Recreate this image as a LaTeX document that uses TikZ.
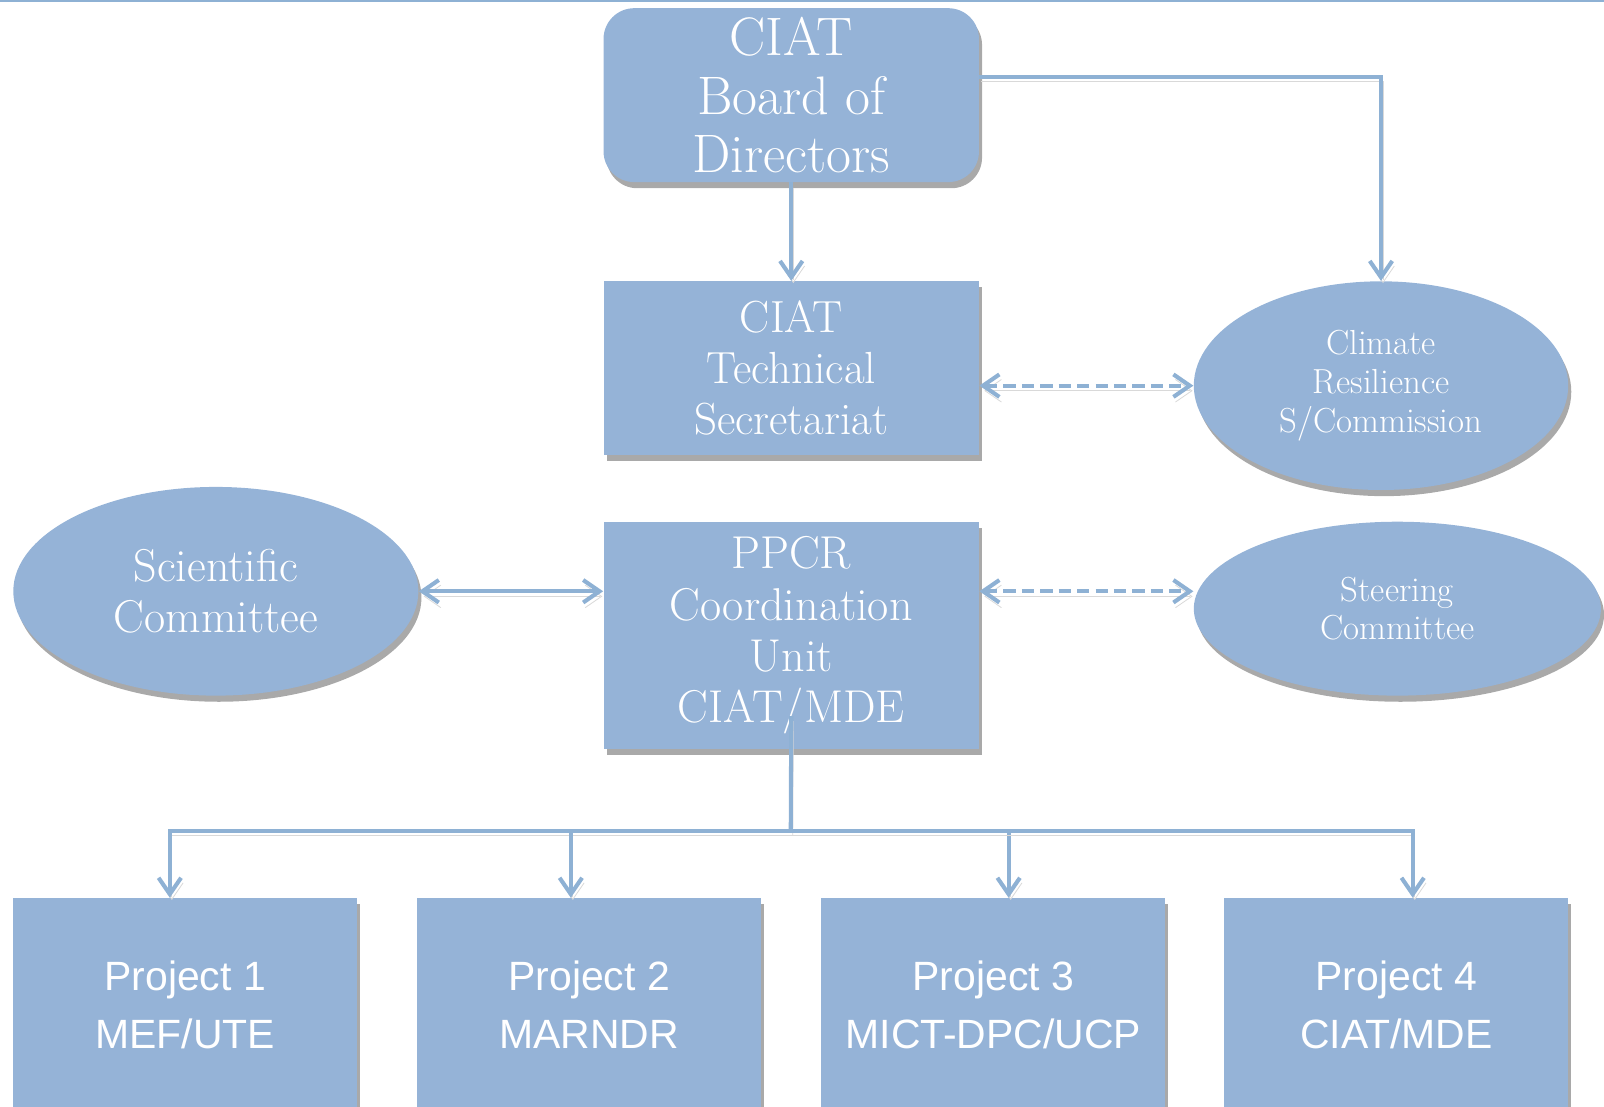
\documentclass[tikz,border=0pt]{standalone}
\usepackage{fontspec}
\newfontfamily\projfont{Liberation Sans}
\usepackage{xcolor}
\usepackage{tikz}
\usetikzlibrary{shapes.geometric,shadows,arrows.meta}
\definecolor{orgblue}{HTML}{95B3D7}
\definecolor{lineblue}{HTML}{8EB1D4}

\begin{document}
\begin{tikzpicture}[x=0.5pt,y=-0.5pt,
    boxshadow/.style={drop shadow={shadow xshift=1.5pt,shadow yshift=-3pt,opacity=.45,fill=black!75}},
    unit/.style={rectangle,fill=orgblue,text=white,align=center,inner sep=0pt,minimum width=183.5pt,boxshadow},
    group/.style={ellipse,fill=orgblue,text=white,align=center,inner sep=0pt,boxshadow},
    proj/.style={unit,minimum width=168pt,minimum height=116pt},
    projtext/.style={text=white,align=center,yshift=6pt,font=\projfont\fontsize{20}{28.5}\selectfont},
    link/.style={draw=lineblue,line width=2pt,preaction={draw=black!15,transform canvas={xshift=1pt,yshift=-2.5pt}}},
    linkto/.style={link,-{Straight Barb[length=8pt,width=11pt]}},
    linkboth/.style={link,{Straight Barb[length=8pt,width=11pt]}-{Straight Barb[length=8pt,width=11pt]}},
    dashlink/.style={dash pattern=on 6pt off 3pt}]
    \useasboundingbox (0,0) rectangle (1568,1081.2);
    \clip (0,0) rectangle (1568,1081.2);
    \draw[lineblue,line width=1pt] (0,1) -- (1568,1);

    \node [unit,rounded corners=15pt,minimum height=85pt,font=\fontsize{26.5}{28.5}\selectfont] (board) at (773.5,93) {CIAT\\Board of\\Directors};
    \node [unit,minimum height=85pt,font=\fontsize{22}{25}\selectfont] (tech) at (773.5,360) {CIAT\\Technical\\Secretariat};
    \node [unit,minimum height=111pt,font=\fontsize{22.5}{25}\selectfont] (ppcr) at (773.5,621) {PPCR\\Coordination\\Unit\\CIAT/MDE};
    \node [group,minimum width=183pt,minimum height=102pt,font=\fontsize{17}{19}\selectfont] (climate) at (1350,377) {Climate\\Resilience\\S/Commission};
    \node [group,minimum width=198pt,minimum height=102pt,font=\fontsize{22.5}{25}\selectfont] (sci) at (211,578) {Scientific\\Committee};
    \node [group,minimum width=199pt,minimum height=85pt,font=\fontsize{17}{18.5}\selectfont] (steer) at (1366,595) {Steering\\Committee};

    \node [proj,label={[projtext]center:{Project 1\\MEF/UTE}}] (p1) at (181,994) {};
    \node [proj,label={[projtext]center:{Project 2\\MARNDR}}] (p2) at (576,994) {};
    \node [proj,label={[projtext]center:{Project 3\\MICT-DPC/UCP}}] (p3) at (971,994) {};
    \node [proj,label={[projtext]center:{Project 4\\CIAT/MDE}}] (p4) at (1365,994) {};

    \draw[linkto] (board) -- (tech);
    \draw[linkto] ([yshift=9pt]board.east) -| (climate.north);
    \draw[linkboth,dashlink] (tech.east |- climate.west) -- (climate.west);
    \draw[linkboth] (sci.east) -- (sci.east -| ppcr.west);
    \draw[linkboth,dashlink] (ppcr.east |- sci.east) -- (steer.west |- sci.east);

    \coordinate (bus) at (773,812);
    \draw[link] ([yshift=-39.5pt]ppcr.center) -- (bus);
    \foreach \n/\dx in {p1/-7.5pt,p2/-9pt,p3/7.5pt,p4/8pt}
      \draw[linkto] (bus) -| ([xshift=\dx]\n.north);
\end{tikzpicture}
\end{document}
